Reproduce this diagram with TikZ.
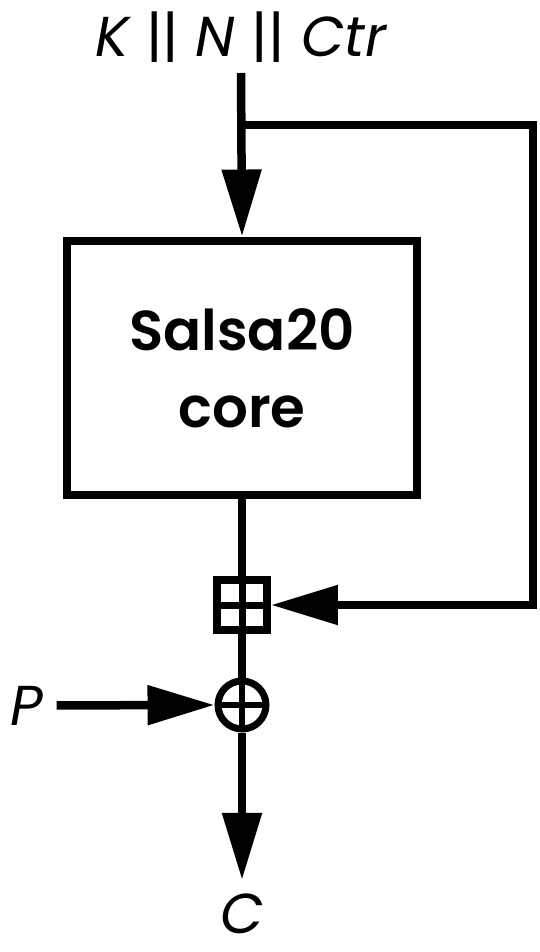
\documentclass[tikz,border=0pt]{standalone}
\usepackage{fontspec}
\setmainfont{Poppins}
\newfontfamily\demifont{Poppins SemiBold}
\usetikzlibrary{positioning, arrows.meta}
\colorlet{saInk}{black}

\begin{document}
\begin{tikzpicture}[x=0.02cm, y=-0.02cm,
  wire/.style={draw=saInk, line width=0.17cm, line join=miter},
  feed/.style={wire, -{Triangle[length=1.34cm, width=0.76cm]}},
  lbl/.style={font=\fontsize{32}{36}\selectfont\itshape, text=saInk,
              inner sep=0pt, anchor=base},
  core/.style={draw=saInk, line width=0.16cm, minimum width=7cm,
               minimum height=5.1cm, align=center,
               font=\fontsize{32}{44}\selectfont\demifont},
  addbox/.style={draw=saInk, line width=0.16cm, minimum size=1cm, inner sep=0pt,
    path picture={\draw[line width=0.14cm]
      (path picture bounding box.north) -- (path picture bounding box.south)
      (path picture bounding box.west) -- (path picture bounding box.east);}},
  xorop/.style={circle, draw=saInk, line width=0.14cm, minimum size=0.96cm, inner sep=0pt,
    path picture={\draw[line width=0.13cm]
      (path picture bounding box.north) -- (path picture bounding box.south)
      (path picture bounding box.west) -- (path picture bounding box.east);}}]
  \useasboundingbox (0,0) rectangle (540,952);

  \node[lbl] (kin) at (241,57) {K {\upshape||} N {\upshape||} Ctr};
  \coordinate (tap) at (242,125);
  \node[core] (salsa) at (242,368) {Salsa20\\core};
  \node[addbox] (add) at (242,605) {};
  \node[xorop] (xor) at (242,705) {};
  \node[lbl] (pin) at (27,725) {P};
  \node[lbl] (cout) at (242,933) {C};
  \coordinate (loop) at (533,605);

  \draw[feed] ([yshift=-0.32cm]kin.base) -- (salsa.north);
  \draw[feed] (tap) -- (tap -| loop) -- (loop) -- (add.east);
  \draw[wire] (salsa.south) -- (add.north);
  \draw[wire] (add.south) -- (xor.north);
  \draw[feed] ([xshift=0.26cm]pin.east) -- (xor.west);
  \draw[feed] (xor.south) -- ([yshift=0.26cm]cout.north);
\end{tikzpicture}
\end{document}
